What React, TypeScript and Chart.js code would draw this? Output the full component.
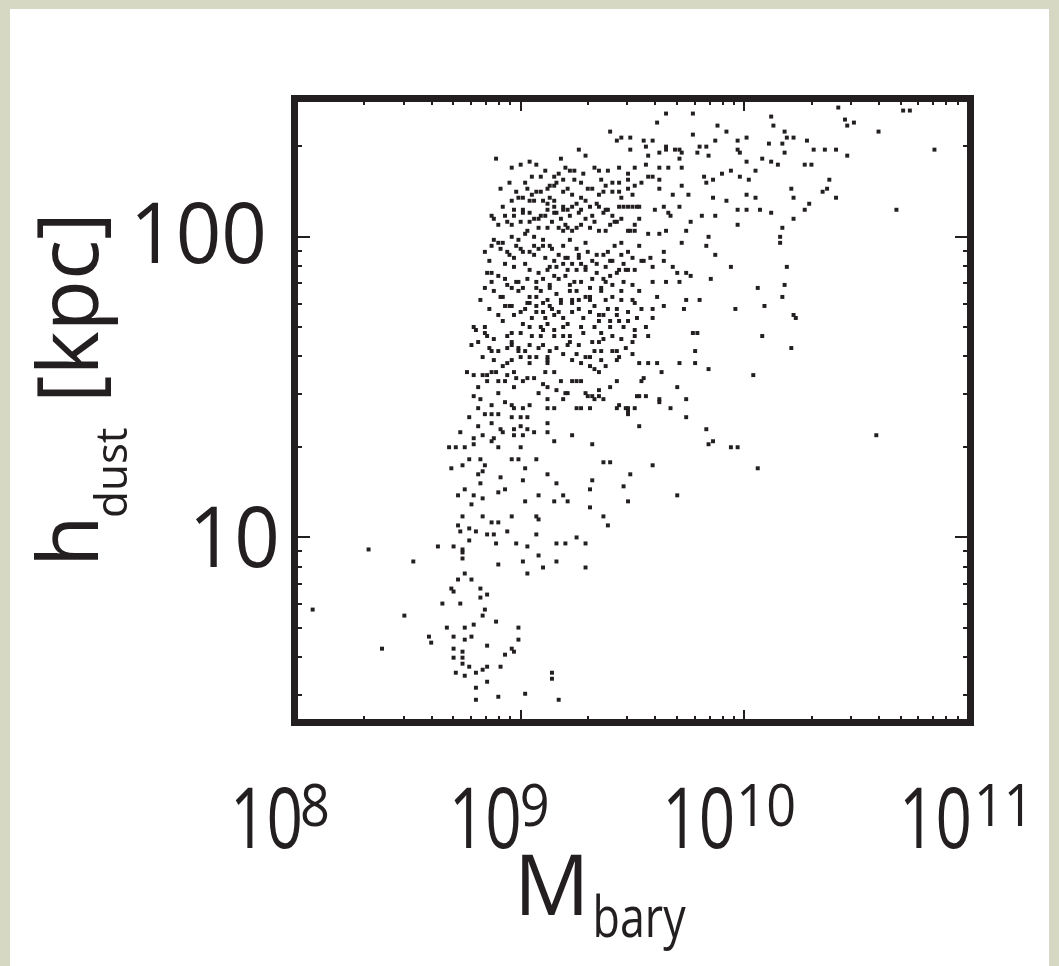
import React, { useEffect, useRef } from "react";
import { Chart, registerables } from "chart.js";

Chart.register(...registerables);

// ---------- axis data ----------
const xRange = [1e8, 1e11];
const yRange = [2.47, 283];
const xMajorTicks = [1e8, 1e9, 1e10, 1e11];
const xTickBase = ["10", "10", "10", "10"];
const xTickExponents = ["8", "9", "10", "11"];
const yMajorTicks = [10, 100];
const yTickLabels = ["10", "100"];
const xTitleMain = "M";
const xTitleSub = "bary";
const yTitleMain = "h";
const yTitleSub = "dust";
const yTitleUnit = "[kpc]";

// ---------- galaxies: [log10 M_bary, log10 h_dust / kpc] ----------
const upperCore: [number, number][] = [
  [9.40,2.35],[9.43,2.32],[9.45,2.33],[9.49,2.33],[9.49,2.29],[9.26,2.29],[9.29,2.27],[9.18,2.26],[8.89,2.26],[8.96,2.23],
  [9.00,2.24],[9.04,2.25],[9.07,2.24],[9.20,2.23],[9.22,2.22],[9.33,2.23],[9.35,2.22],[9.39,2.22],[9.05,2.20],[9.09,2.20],
  [9.15,2.20],[9.19,2.19],[9.24,2.19],[9.27,2.18],[9.44,2.18],[9.48,2.19],[9.51,2.17],[8.91,2.16],[9.03,2.16],[9.07,2.15],
  [9.12,2.16],[9.15,2.17],[9.19,2.15],[9.23,2.14],[9.27,2.13],[9.32,2.16],[9.35,2.14],[9.41,2.15],[9.45,2.13],[9.50,2.14],
  [8.92,2.10],[8.96,2.12],[8.99,2.13],[9.01,2.13],[9.06,2.12],[9.10,2.12],[9.15,2.12],[9.19,2.10],[9.23,2.10],[9.27,2.09],
  [9.31,2.10],[9.35,2.10],[9.39,2.09],[9.44,2.10],[9.48,2.10],[9.52,2.10],[8.87,2.07],[8.90,2.04],[8.94,2.05],[8.97,2.07],
  [9.01,2.08],[9.04,2.08],[9.08,2.06],[9.11,2.07],[9.15,2.08],[9.18,2.06],[9.21,2.03],[9.23,2.02],[9.27,2.04],[9.31,2.03],
  [9.35,2.02],[9.40,2.04],[9.43,2.05],[9.48,2.02],[9.51,2.04],
];

const midCore: [number, number][] = [
  [8.84,1.95],[8.87,1.97],[8.90,1.98],[8.94,1.95],[8.98,1.97],[9.01,1.95],[9.06,1.94],[9.10,1.97],[9.14,1.96],[9.17,1.94],
  [9.20,1.93],[9.23,1.91],[9.26,1.93],[9.30,1.95],[9.34,1.94],[9.39,1.95],[9.42,1.97],[9.45,1.94],[9.50,1.93],
  [8.85,1.88],[8.87,1.88],[8.90,1.87],[8.93,1.86],[8.98,1.85],[9.03,1.86],[9.07,1.85],[9.12,1.89],[9.16,1.90],[9.21,1.89],
  [9.25,1.89],[9.29,1.89],[9.32,1.86],[9.38,1.85],[9.43,1.88],[9.47,1.89],[9.51,1.89],
  [8.84,1.83],[8.88,1.82],[8.92,1.80],[8.96,1.83],[8.99,1.82],[9.04,1.80],[9.09,1.82],[9.13,1.83],[9.18,1.79],[9.22,1.82],
  [9.26,1.79],[9.31,1.80],[9.36,1.83],[9.41,1.80],[9.45,1.79],[9.50,1.79],
  [8.82,1.79],[8.95,1.77],[8.97,1.74],[9.02,1.76],[9.07,1.75],[9.11,1.73],[9.14,1.76],[9.19,1.73],[9.23,1.75],[9.27,1.70],
  [9.31,1.75],[9.35,1.72],[9.40,1.70],[9.43,1.74],[9.48,1.75],[9.52,1.73],
  [8.79,1.70],[8.84,1.68],[8.88,1.66],[8.94,1.67],[9.00,1.68],[9.04,1.70],[9.10,1.69],[9.15,1.67],[9.19,1.67],[9.22,1.65],
  [9.28,1.68],[9.32,1.65],[9.37,1.66],[9.41,1.67],[9.45,1.66],[9.50,1.65],
  [8.78,1.64],[8.81,1.65],[8.86,1.63],[8.90,1.62],[8.96,1.64],[8.99,1.62],[9.04,1.60],[9.08,1.63],[9.12,1.60],[9.16,1.63],
  [9.21,1.64],[9.25,1.61],[9.31,1.60],[9.36,1.62],[9.41,1.62],[9.44,1.60],[9.50,1.61],
  [8.76,1.55],[8.79,1.54],[8.83,1.54],[8.87,1.55],[8.90,1.52],[8.94,1.54],[8.98,1.53],[9.01,1.52],[9.06,1.53],[9.10,1.51],
  [9.16,1.49],[9.21,1.48],[9.25,1.52],[9.30,1.47],[9.35,1.49],[9.40,1.50],[9.43,1.52],
  [8.79,1.47],[8.82,1.46],[8.87,1.44],[8.93,1.45],[8.97,1.43],[9.04,1.44],[9.12,1.43],[9.19,1.46],[9.27,1.43],[9.32,1.47],
  [9.37,1.46],[9.44,1.44],
];

const denseCore: [number, number][] = [
  [9.24,2.22],[9.36,2.19],[8.98,2.15],[9.09,2.15],[9.13,2.17],[9.16,2.18],[9.04,2.12],[9.12,2.11],[9.15,2.10],[9.21,2.09],
  [9.25,2.11],[9.29,2.12],[9.34,2.11],[8.97,2.09],[9.01,2.09],[9.09,2.07],[9.12,2.09],[9.16,2.08],[9.19,2.09],[9.22,2.07],
  [9.26,2.08],[9.32,2.07],[9.37,2.08],[8.96,2.04],[9.00,2.05],[9.04,2.05],[9.08,2.03],[9.12,2.03],[9.17,2.03],[9.25,2.03],
  [9.38,2.02],[8.88,2.06],[8.88,1.99],[8.92,1.98],[8.96,2.00],[8.99,1.99],[9.02,2.01],[9.06,2.00],[9.10,1.99],[9.13,1.97],
  [9.19,1.97],[9.22,1.99],[9.25,1.96],[9.29,1.98],[8.91,1.96],[8.95,1.94],[9.00,1.96],[9.04,1.95],[9.08,1.96],[9.21,1.93],
  [9.26,1.94],[9.37,1.94],[8.93,1.91],[8.97,1.90],[9.02,1.91],[9.04,1.89],[9.08,1.88],[9.13,1.90],[9.29,1.90],[9.34,1.91],
  [9.38,1.90],[8.99,1.85],[9.07,1.83],[9.13,1.84],[9.17,1.86],[9.22,1.84],[9.27,1.85],[9.31,1.83],[9.37,1.86],[8.91,1.80],
  [9.07,1.80],[9.12,1.79],[9.16,1.81],[9.25,1.82],[9.29,1.80],[9.36,1.82],[8.96,1.77],[9.04,1.78],[9.10,1.78],[9.18,1.78],
  [9.23,1.78],[9.31,1.79],[8.90,1.74],[9.00,1.75],[9.03,1.78],[9.07,1.77],[9.10,1.75],[9.15,1.74],[9.23,1.79],[9.28,1.73],
  [9.33,1.77],[9.37,1.74],[8.80,1.69],[8.84,1.70],[8.92,1.72],[8.96,1.68],[9.01,1.71],[9.09,1.70],[9.12,1.71],[9.15,1.69],
  [9.19,1.70],[9.22,1.67],[9.36,1.68],[8.85,1.67],[9.05,1.67],[9.09,1.67],[8.87,1.62],[8.94,1.63],[8.96,1.65],[8.99,1.63],
  [9.04,1.64],[9.13,1.62],[9.26,1.64],[9.35,1.65],[8.88,1.59],[8.96,1.59],[9.00,1.60],[9.04,1.58],[9.07,1.60],[9.12,1.59],
  [9.12,1.58],[9.23,1.59],[9.29,1.60],[9.36,1.59],[9.38,1.57],[8.85,1.54],[8.89,1.55],[8.94,1.58],[8.97,1.55],[9.03,1.53],
  [9.11,1.55],[9.15,1.55],[9.18,1.52],[9.31,1.57],[9.33,1.56],
];

const coreClusters: [number, number][] = [
  [9.02,2.18],[9.11,2.22],[9.17,2.21],[9.28,2.21],[9.30,2.16],[9.38,2.17],[9.05,2.14],[8.95,2.18],[9.13,2.13],[9.21,2.16],
  [8.93,2.07],[9.06,2.06],[9.14,2.05],[9.19,2.02],[9.20,2.04],[9.29,2.06],[9.33,2.05],[9.41,2.07],[9.45,2.06],[9.03,2.02],
  [8.86,1.92],[8.97,1.93],[9.11,1.93],[9.15,1.92],[9.19,1.91],[9.27,1.91],[9.32,1.92],[9.41,1.92],[9.46,1.91],[9.06,1.97],
  [8.87,1.85],[8.94,1.84],[9.01,1.83],[9.10,1.86],[9.15,1.87],[9.20,1.87],[9.34,1.88],[9.40,1.87],[9.46,1.85],[9.24,1.85],
  [8.86,1.76],[8.93,1.77],[9.05,1.73],[9.13,1.77],[9.17,1.75],[9.21,1.71],[9.26,1.76],[9.33,1.70],[9.39,1.76],[9.46,1.70],
  [8.83,1.60],[8.92,1.57],[9.02,1.62],[9.10,1.64],[9.19,1.61],[9.27,1.58],[9.33,1.62],[9.47,1.63],[8.81,1.50],[9.08,1.48],
];

const upperRight: [number, number][] = [
  [9.65,2.41],[9.77,2.41],[9.61,2.38],[10.12,2.40],[10.42,2.43],[10.45,2.39],[10.49,2.38],[10.46,2.37],[10.71,2.42],[10.74,2.42],
  [10.60,2.35],[10.13,2.37],[10.18,2.35],[9.88,2.37],[9.92,2.35],[9.55,2.32],[9.59,2.32],[9.65,2.30],[9.69,2.29],[9.77,2.34],
  [9.80,2.30],[9.83,2.30],[9.87,2.32],[9.79,2.28],[9.84,2.27],[9.97,2.32],[10.01,2.33],[9.97,2.29],[9.98,2.28],[10.11,2.31],
  [10.17,2.31],[10.19,2.33],[10.22,2.33],[10.18,2.28],[10.28,2.32],[10.31,2.29],[10.36,2.29],[10.41,2.29],[10.46,2.27],[10.85,2.29],
  [9.56,2.30],[9.57,2.27],[9.62,2.28],[9.65,2.29],[9.71,2.29],[9.71,2.26],[9.72,2.28],[10.08,2.26],[10.12,2.25],[10.15,2.24],
  [10.27,2.24],[10.30,2.24],[10.01,2.25],[10.05,2.22],[9.44,2.23],[9.48,2.21],[9.51,2.23],[9.56,2.24],[9.57,2.20],[9.62,2.23],
  [9.66,2.23],[9.72,2.23],[9.82,2.20],[9.86,2.19],[9.90,2.21],[9.94,2.22],[9.98,2.20],[10.02,2.19],[10.38,2.19],[10.35,2.15],
  [10.37,2.16],[10.41,2.13],[10.21,2.16],[10.22,2.13],[10.68,2.09],[10.27,2.09],[10.29,2.11],[9.37,2.15],[9.41,2.18],[9.44,2.15],
  [9.48,2.16],[9.54,2.18],[9.59,2.20],[9.62,2.19],[9.62,2.16],[9.68,2.14],[9.72,2.17],[9.75,2.14],[9.83,2.18],[9.86,2.13],
  [9.92,2.12],[10.01,2.14],[10.05,2.13],[9.97,2.09],[10.01,2.09],[9.97,2.04],[10.07,2.09],[10.12,2.08],[10.22,2.06],[9.38,2.09],
  [9.42,2.05],[9.46,2.10],[9.50,2.10],[9.53,2.10],[9.53,2.06],[9.60,2.09],[9.64,2.10],[9.66,2.08],[9.67,2.07],[9.71,2.10],
  [9.76,2.05],[9.81,2.07],[9.87,2.07],[10.17,2.03],[10.16,2.00],[10.16,1.98],[9.84,2.00],[9.83,1.97],[9.87,1.94],[9.49,2.02],
  [9.51,2.02],[9.57,2.01],[9.62,2.01],[9.65,2.02],[9.74,2.02],[9.45,1.98],[9.48,1.95],[9.53,1.97],[9.55,1.92],[9.58,1.93],
  [9.64,1.95],[9.64,1.92],[9.68,1.90],[9.72,1.98],[9.94,1.90],[10.19,1.90],[9.40,1.92],[9.44,1.89],[9.48,1.89],[9.54,1.92],
  [9.59,1.90],[9.70,1.88],[9.74,1.88],[9.76,1.87],[9.85,1.86],[10.06,1.83],[10.18,1.84],[10.17,1.80],[10.09,1.77],[9.41,1.84],
  [9.45,1.82],[9.50,1.84],[9.53,1.82],[9.59,1.85],[9.61,1.80],[9.65,1.85],[9.71,1.85],[9.74,1.79],[9.80,1.79],[9.73,1.76],
  [9.96,1.76],[10.22,1.74],[10.23,1.73],[9.38,1.79],[9.43,1.76],[9.51,1.78],[9.54,1.76],[9.59,1.76],[9.64,1.77],[9.35,1.74],
  [9.40,1.72],[9.44,1.72],[9.48,1.72],[9.51,1.69],[9.56,1.70],[9.59,1.73],[10.08,1.67],[10.21,1.63],[9.77,1.68],[9.79,1.68],
  [9.51,1.67],[9.57,1.67],[9.43,1.62],[9.43,1.59],[9.35,1.55],[9.53,1.58],[9.57,1.58],[9.61,1.58],[9.71,1.58],[9.78,1.62],
  [9.78,1.58],[9.84,1.56],[10.04,1.54],[9.63,1.55],[9.55,1.53],[9.54,1.52],[9.53,1.47],[9.56,1.47],[9.62,1.46],[9.70,1.50],
  [9.74,1.46],[9.47,1.43],[9.51,1.43],[9.67,1.43],
];

const lowerRight: [number, number][] = [
  [9.35,1.47],[9.43,1.43],[9.48,1.43],[9.48,1.41],[9.52,1.47],[9.62,1.45],[9.74,1.40],[9.53,1.37],[9.83,1.36],[9.84,1.31],
  [9.86,1.32],[9.94,1.30],[9.97,1.30],[10.06,1.23],[10.59,1.34],[9.37,1.25],[9.40,1.25],[9.59,1.24],[9.49,1.21],[9.46,1.17],
  [9.48,1.12],[9.70,1.14],[9.37,1.07],[9.39,1.04],
];

const lowerTail: [number, number][] = [
  [8.85,1.52],[8.90,1.48],[8.93,1.52],[8.97,1.50],[9.12,1.50],[9.20,1.48],[9.23,1.52],[9.27,1.52],[9.29,1.48],[9.33,1.46],
  [8.96,1.44],[9.01,1.43],[9.12,1.46],[9.15,1.43],[9.25,1.43],[9.31,1.43],[9.48,1.42],[8.77,1.40],[8.81,1.43],[8.84,1.41],
  [8.87,1.41],[8.90,1.41],[8.96,1.40],[9.00,1.40],[9.03,1.40],[9.12,1.38],[8.87,1.38],[8.81,1.37],[8.91,1.36],[8.97,1.36],
  [9.00,1.37],[9.03,1.36],[9.06,1.35],[9.12,1.35],[8.73,1.35],[8.79,1.33],[8.83,1.34],[8.88,1.33],[8.92,1.35],[8.97,1.34],
  [9.01,1.34],[9.23,1.34],[9.15,1.32],[9.32,1.31],[8.68,1.30],[8.71,1.30],[8.75,1.30],[8.79,1.31],[8.87,1.32],[8.90,1.30],
  [8.96,1.26],[8.99,1.26],[9.00,1.30],[9.07,1.26],[8.69,1.23],[8.74,1.24],[8.77,1.26],[8.82,1.26],[8.84,1.24],[8.83,1.22],
  [9.02,1.23],[9.12,1.21],[8.81,1.21],[8.82,1.18],[8.91,1.20],[9.01,1.19],[9.16,1.18],[9.32,1.19],[9.31,1.16],[8.72,1.14],
  [8.75,1.16],[8.79,1.14],[8.83,1.13],[8.90,1.15],[8.93,1.16],[9.02,1.12],[9.08,1.14],[9.15,1.12],[9.19,1.14],[9.21,1.12],
  [8.78,1.11],[9.31,1.10],[8.74,1.07],[8.83,1.07],[8.87,1.05],[8.90,1.05],[8.96,1.07],[9.07,1.07],[9.08,1.06],[8.72,1.04],
  [8.77,1.03],[8.73,1.02],[8.80,1.02],[8.85,1.01],[8.88,1.01],[8.94,1.02],[9.07,1.01],[9.16,0.98],[9.20,0.98],[9.25,1.00],
  [9.29,0.98],[8.77,0.99],[8.89,0.98],[8.98,0.98],[9.03,0.97],[8.63,0.97],[8.70,0.97],[8.74,0.96],[8.74,0.95],[8.74,0.93],
  [9.01,0.92],[9.08,0.94],[9.16,0.92],[8.90,0.91],[9.10,0.90],[9.03,0.88],[9.29,0.90],[8.75,0.88],[8.78,0.86],[8.72,0.86],
  [8.69,0.83],[8.70,0.82],[8.82,0.83],[8.85,0.81],[8.82,0.80],[8.65,0.78],[8.73,0.78],[8.84,0.76],[8.83,0.74],[8.89,0.72],
  [8.79,0.71],[8.67,0.70],[8.75,0.70],[8.75,0.66],[8.70,0.67],[8.78,0.67],[8.85,0.64],[8.96,0.63],[8.97,0.62],[8.99,0.66],
  [8.99,0.70],[8.59,0.67],[8.60,0.65],[8.70,0.63],[8.74,0.62],[8.70,0.60],[8.74,0.60],[8.93,0.61],[8.74,0.58],[8.77,0.57],
  [8.71,0.55],[8.75,0.54],[8.80,0.55],[8.83,0.56],[8.85,0.57],[8.91,0.57],[8.85,0.52],[8.80,0.50],[8.80,0.46],[8.90,0.47],
  [9.02,0.48],[9.14,0.55],[9.14,0.53],[9.17,0.46],
];

const outliers: [number, number][] = [
  [8.07,0.76],[8.32,0.96],[8.52,0.92],[8.48,0.74],[8.38,0.63],
];

const galaxies = [
  ...upperCore, ...midCore, ...denseCore, ...coreClusters,
  ...upperRight, ...lowerRight, ...lowerTail, ...outliers,
];

// ---------- style ----------
const INK = "#231f20";
const FRAME = "#d6d8c4";
const FONT = '"Open Sans", "Noto Sans", sans-serif';

function txt(ctx: CanvasRenderingContext2D, s: string, x: number, y: number, size: number, sx: number, align: CanvasTextAlign = "left") {
  ctx.save();
  ctx.font = `${size}px ${FONT}`;
  ctx.translate(x, y);
  ctx.scale(sx, 1);
  ctx.textAlign = align;
  ctx.textBaseline = "alphabetic";
  ctx.fillText(s, 0, 0);
  const w = ctx.measureText(s).width * sx;
  ctx.restore();
  return w;
}

const decorPlugin = {
  id: "decor",
  beforeDraw(chart: any) {
    const ctx = chart.ctx as CanvasRenderingContext2D;
    ctx.save();
    ctx.fillStyle = "#ffffff";
    ctx.fillRect(0, 0, chart.width, chart.height);
    ctx.restore();
  },
  afterDraw(chart: any) {
    const ctx = chart.ctx as CanvasRenderingContext2D;
    const a = chart.chartArea;
    const xs = chart.scales.x;
    const ys = chart.scales.y;
    ctx.save();
    ctx.fillStyle = INK;
    ctx.strokeStyle = INK;

    // ticks (inward, all four sides)
    ctx.lineWidth = 2;
    for (let d = 8; d <= 10; d++) {
      for (let m = 1; m <= 9; m++) {
        const v = m * Math.pow(10, d);
        const px = Math.round(xs.getPixelForValue(v));
        const len = m === 1 ? 10 : 4;
        ctx.beginPath();
        ctx.moveTo(px, a.bottom + 1);
        ctx.lineTo(px, a.bottom - len);
        ctx.moveTo(px, a.top - 1);
        ctx.lineTo(px, a.top + len);
        ctx.stroke();
      }
    }
    for (let d = 0; d <= 2; d++) {
      for (let m = 1; m <= 9; m++) {
        const v = m * Math.pow(10, d);
        if (v < ys.min || v > ys.max) continue;
        const py = Math.round(ys.getPixelForValue(v));
        const len = m === 1 ? 13 : 5;
        ctx.beginPath();
        ctx.moveTo(a.left - 1, py);
        ctx.lineTo(a.left + len, py);
        ctx.moveTo(a.right + 1, py);
        ctx.lineTo(a.right - len, py);
        ctx.stroke();
      }
    }

    // plot box
    ctx.lineWidth = 7;
    ctx.strokeRect(a.left - 2.5, a.top - 2.5, a.right - a.left + 5, a.bottom - a.top + 5);

    // y tick labels
    const yRight = [280, 267];
    const yDrop = [30, 26];
    yMajorTicks.forEach((v, i) => {
      const py = ys.getPixelForValue(v);
      txt(ctx, yTickLabels[i], yRight[i], py + yDrop[i], 84, 0.95, "right");
    });

    // x tick labels: base "10" plus superscript exponent
    const xShift = [-67, -72, -82, -69];
    const supGap = [-3, -2, 1, 2];
    xMajorTicks.forEach((v, i) => {
      const px = xs.getPixelForValue(v);
      const bw = txt(ctx, xTickBase[i], px + xShift[i], 848, 84, 0.76);
      txt(ctx, xTickExponents[i], px + xShift[i] + bw + supGap[i], 826, 58, 0.9);
    });

    // x title
    const mw = txt(ctx, xTitleMain, 514, 915, 84, 1.0);
    txt(ctx, xTitleSub, 514 + mw + 3, 937, 56, 0.8);

    // y title (rotated)
    ctx.save();
    ctx.translate(98, 567);
    ctx.rotate(-Math.PI / 2);
    txt(ctx, yTitleMain, 0, 0, 84, 1);
    txt(ctx, yTitleSub, 49, 29, 44, 1);
    txt(ctx, yTitleUnit, 164, 0, 84, 1);
    ctx.restore();

    // outer frame strips
    ctx.fillStyle = FRAME;
    ctx.fillRect(0, 0, chart.width, 9);
    ctx.fillRect(0, 0, 10, chart.height);
    ctx.fillRect(1049, 0, chart.width - 1049, chart.height);
    ctx.restore();
  },
};

export default function App() {
  const ref = useRef<HTMLCanvasElement>(null);
  useEffect(() => {
    const canvas = ref.current;
    if (!canvas) return;
    const chart = new Chart(canvas, {
      type: "scatter",
      data: {
        datasets: [
          {
            data: galaxies.map(([lm, lh]) => ({ x: Math.pow(10, lm), y: Math.pow(10, lh) })),
            backgroundColor: INK,
            borderWidth: 0,
            pointStyle: "rect",
            pointRadius: 2.8,
            pointHoverRadius: 2.8,
          },
        ],
      },
      options: {
        animation: false,
        responsive: false,
        maintainAspectRatio: false,
        devicePixelRatio: 1,
        events: [],
        layout: { padding: { left: 297, right: 91, top: 101, bottom: 246 } },
        plugins: { legend: { display: false }, tooltip: { enabled: false } },
        scales: {
          x: { type: "logarithmic", min: xRange[0], max: xRange[1], display: false },
          y: { type: "logarithmic", min: yRange[0], max: yRange[1], display: false },
        },
      },
      plugins: [decorPlugin],
    });
    return () => chart.destroy();
  }, []);
  return (
    <>
      <style>{"html,body{margin:0;padding:0;overflow:hidden;background:#fff}"}</style>
      <canvas ref={ref} width={1059} height={966} style={{ display: "block", width: 1059, height: 966 }} />
    </>
  );
}
